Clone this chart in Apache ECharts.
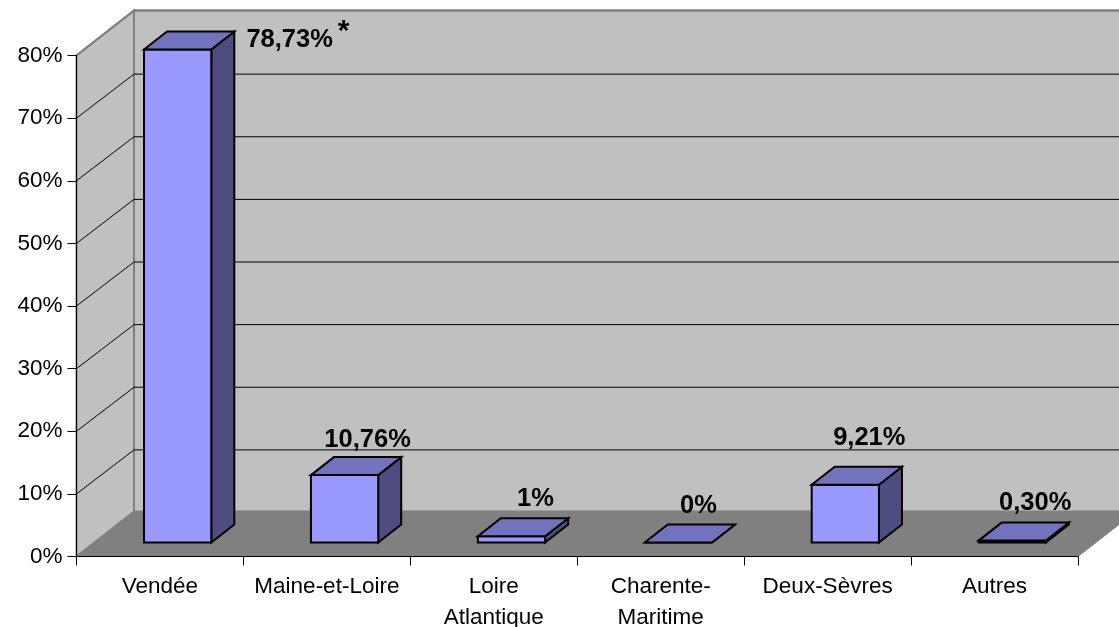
<!DOCTYPE html>
<html>
<head>
<meta charset="utf-8">
<style>html,body{margin:0;padding:0;background:#fff}#c{width:1119px;height:627px}</style>
<script src="https://cdn.jsdelivr.net/npm/echarts@6/dist/echarts.min.js"></script>
</head>
<body>
<div id="c"></div>
<script>
var categories = ['Vendée', 'Maine-et-Loire', 'Loire\nAtlantique', 'Charente-\nMaritime', 'Deux-Sèvres', 'Autres'];
var values = [78.73, 10.76, 1, 0, 9.21, 0.3];
var valueLabels = ['78,73%', '10,76%', '1%', '0%', '9,21%', '0,30%'];
var notes = ['*', '', '', '', '', ''];
var gridTicks = [10, 20, 30, 40, 50, 60, 70, 80];

// pseudo-3D projection, in pixels
var WALL_DX = 57.5, WALL_DY = 45, GRID_DY = 44;
var BAR_DX = 23, BAR_DY = 18, BAR_SHIFT_X = 17.7, BAR_SHIFT_Y = 14, BAR_FRAC = 0.403;
var labelDx = [112, 23, 24, 20, 24, 23];
var labelDy = [9, -17, -19.5, -19, -29, -19.5];

var FONT = '"Liberation Sans", Arial, sans-serif';
var chart = echarts.init(document.getElementById('c'), null, {renderer: 'canvas'});

function poly(points, fill, stroke, lw) {
  return {type: 'polygon', shape: {points: points},
    style: {fill: fill, stroke: stroke, lineWidth: lw, lineJoin: 'miter'}};
}

chart.setOption({
  animation: false,
  backgroundColor: '#ffffff',
  grid: {left: 76.5, right: 41, top: 55.5, bottom: 70.5, containLabel: false, outerBoundsMode: 'none'},
  xAxis: {
    type: 'category', data: categories, z: 6,
    axisLine: {lineStyle: {color: '#000', width: 1}},
    axisTick: {show: true, alignWithLabel: false, length: 9, lineStyle: {color: '#000', width: 1}},
    axisLabel: {color: '#000', fontFamily: FONT, fontSize: 22.5, lineHeight: 31, margin: 15, interval: 0},
    splitLine: {show: false}
  },
  yAxis: {
    type: 'value', min: 0, max: 80, interval: 10, z: 6,
    axisLine: {show: true, lineStyle: {color: '#000', width: 1}},
    axisTick: {show: true, length: 9, lineStyle: {color: '#000', width: 1}},
    axisLabel: {color: '#000', fontFamily: FONT, fontSize: 22.5, margin: 14, formatter: '{value}%'},
    splitLine: {show: false}
  },
  series: [
    { // walls and floor
      type: 'custom', z: 1, silent: true, data: [0],
      encode: {x: -1, y: -1},
      renderItem: function (params, api) {
        var half = api.size([1, 0])[0] / 2;
        var o = api.coord([0, 0]); var t = api.coord([0, 80]);
        var r = api.coord([categories.length - 1, 0]);
        var x0 = o[0] - half, x1 = r[0] + half, yb = o[1], yt = t[1];
        var wallStroke = '#808080';
        return {type: 'group', children: [
          poly([[x0, yb], [x0 + WALL_DX, yb - WALL_DY], [x0 + WALL_DX, yt - WALL_DY], [x0, yt]], '#C0C0C0', wallStroke, 2),
          poly([[x0 + WALL_DX, yb - WALL_DY], [x1 + WALL_DX, yb - WALL_DY], [x1 + WALL_DX, yt - WALL_DY], [x0 + WALL_DX, yt - WALL_DY]], '#C0C0C0', wallStroke, 2),
          poly([[x0, yb], [x1, yb], [x1 + WALL_DX, yb - WALL_DY], [x0 + WALL_DX, yb - WALL_DY]], '#808080', '#808080', 1)
        ]};
      }
    },
    { // gridlines on the two walls
      type: 'custom', z: 2, silent: true, data: gridTicks,
      encode: {x: -1, y: 0},
      renderItem: function (params, api) {
        var half = api.size([1, 0])[0] / 2;
        var p = api.coord([0, api.value(0)]);
        var r = api.coord([categories.length - 1, api.value(0)]);
        var x0 = p[0] - half, x1 = r[0] + half, y = p[1];
        var st = {stroke: '#000', lineWidth: 1, fill: 'none'};
        var isTop = api.value(0) === 80;
        var dy = isTop ? WALL_DY : GRID_DY;
        var kids = [{type: 'polyline',
          shape: {points: [[x0, y], [x0 + WALL_DX, y - dy], [x1 + WALL_DX, y - dy]]},
          style: isTop ? {stroke: '#808080', lineWidth: 2, fill: 'none'} : st}];
        return {type: 'group', children: kids};
      }
    },
    { // bars
      type: 'custom', z: 3, silent: true,
      data: values.map(function (v, i) { return [i, v]; }),
      encode: {x: 0, y: 1},
      renderItem: function (params, api) {
        var i = api.value(0), v = api.value(1);
        var band = api.size([1, 0])[0];
        var w = band * BAR_FRAC;
        var base = api.coord([i, 0]), top = api.coord([i, v]);
        var l = base[0] + BAR_SHIFT_X - w / 2, r = l + w;
        var b = base[1] - BAR_SHIFT_Y, t = top[1] - BAR_SHIFT_Y;
        var line = '#000';
        return {type: 'group', children: [
          poly([[r, b], [r + BAR_DX, b - BAR_DY], [r + BAR_DX, t - BAR_DY], [r, t]], '#4D4D80', line, 2),
          poly([[l, b], [r, b], [r, t], [l, t]], '#9999FF', line, 2),
          poly([[l, t], [r, t], [r + BAR_DX, t - BAR_DY], [l + BAR_DX, t - BAR_DY]], '#7373BD', line, 2)
        ]};
      }
    },
    { // value labels
      type: 'custom', z: 4, silent: true,
      data: values.map(function (v, i) { return [i, v]; }),
      encode: {x: 0, y: 1},
      renderItem: function (params, api) {
        var i = api.value(0), v = api.value(1);
        var base = api.coord([i, 0]), top = api.coord([i, v]);
        var cx = base[0] + BAR_SHIFT_X + labelDx[i];
        var cy = top[1] - BAR_SHIFT_Y - BAR_DY + labelDy[i];
        var kids = [{type: 'text', style: {
          text: valueLabels[i], x: cx, y: cy, fill: '#000',
          font: 'bold 25.5px ' + FONT, textAlign: 'center', textVerticalAlign: 'middle'}}];
        if (notes[i]) {
          kids.push({type: 'text', style: {
            text: notes[i], x: cx + 54, y: cy - 9, fill: '#000',
            font: 'bold 30px ' + FONT, textAlign: 'center', textVerticalAlign: 'middle'}});
        }
        return {type: 'group', children: kids};
      }
    }
  ]
});
</script>
</body>
</html>
